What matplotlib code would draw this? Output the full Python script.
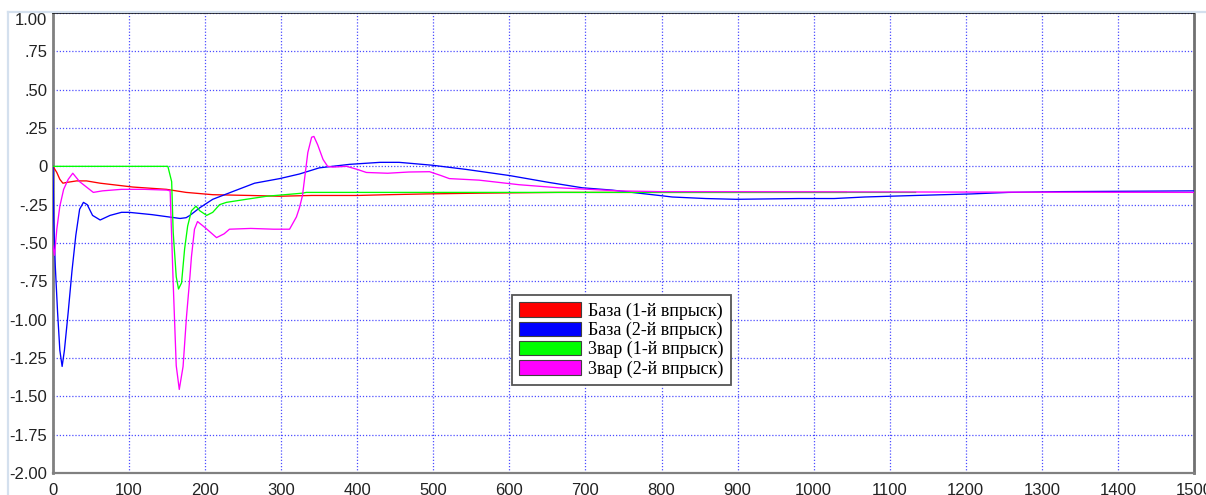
import matplotlib
matplotlib.use("Agg")
import matplotlib.pyplot as plt
from matplotlib.patches import Patch
from matplotlib.lines import Line2D

# ---- data ----
labels = ["База (1-й впрыск)", "База (2-й впрыск)", "3вар (1-й впрыск)", "3вар (2-й впрыск)"]
colors = ["#ff0000", "#0000ff", "#00ff00", "#ff00ff"]

red_x = [0, 5, 9, 13, 18, 31, 44, 62, 105, 149, 175, 210, 259, 298, 340, 400, 440, 490, 560, 665, 744, 800, 900, 1043]
red_y = [0, -0.04, -0.085, -0.11, -0.105, -0.095, -0.095, -0.11, -0.135, -0.15, -0.17, -0.185, -0.19, -0.195,
         -0.19, -0.19, -0.185, -0.18, -0.175, -0.17, -0.17, -0.17, -0.17, -0.17]

blue_x = [0, 1, 3, 6, 9, 12, 15, 20, 25, 30, 35, 40, 45, 52, 62, 75, 90, 100, 130, 167, 175, 180, 193, 210, 236,
          265, 298, 324, 350, 390, 430, 455, 499, 543, 600, 652, 696, 735, 770, 797, 814, 858, 898, 980, 1027,
          1067, 1100, 1134, 1207, 1256, 1325, 1500]
blue_y = [0, -0.35, -0.65, -0.95, -1.2, -1.305, -1.2, -0.95, -0.68, -0.45, -0.28, -0.235, -0.25, -0.32, -0.35,
          -0.32, -0.30, -0.30, -0.315, -0.34, -0.335, -0.32, -0.27, -0.215, -0.165, -0.11, -0.08, -0.05, -0.01,
          0.013, 0.026, 0.026, 0.007, -0.02, -0.06, -0.105, -0.14, -0.155, -0.175, -0.19, -0.20, -0.21, -0.215,
          -0.21, -0.21, -0.2, -0.195, -0.19, -0.18, -0.17, -0.165, -0.16]

green_x = [0, 151, 156, 158, 162, 165, 169, 173, 177, 182, 188, 193, 202, 210, 219, 228, 254, 281, 328, 333, 600,
           900, 1134]
green_y = [0, 0, -0.1, -0.43, -0.72, -0.80, -0.76, -0.54, -0.39, -0.29, -0.26, -0.29, -0.32, -0.30, -0.25, -0.235,
           -0.215, -0.195, -0.175, -0.17, -0.17, -0.17, -0.17]

mag_x = [0, 2, 5, 9, 14, 20, 26, 35, 53, 65, 90, 120, 150, 154, 158, 162, 166, 171, 175.5, 180, 182, 186, 190,
         200, 215, 225, 232, 260, 290, 311, 320, 324, 328, 335, 340, 343, 348, 355, 361, 368, 386, 400, 412, 440,
         468, 495, 510, 521, 560, 613, 665, 744, 797, 1500]
mag_y = [-0.52, -0.58, -0.41, -0.26, -0.15, -0.085, -0.045, -0.1, -0.17, -0.16, -0.15, -0.15, -0.155, -0.16,
         -0.76, -1.3, -1.455, -1.305, -0.98, -0.72, -0.59, -0.41, -0.36, -0.40, -0.465, -0.44, -0.41, -0.405,
         -0.41, -0.41, -0.33, -0.27, -0.19, 0.09, 0.19, 0.195, 0.14, 0.045, 0.0, -0.005, 0.0, -0.02, -0.04,
         -0.045, -0.037, -0.035, -0.06, -0.08, -0.09, -0.12, -0.14, -0.16, -0.165, -0.17]

x_ticks = list(range(0, 1501, 100))
y_ticks = [1.0, 0.75, 0.5, 0.25, 0, -0.25, -0.5, -0.75, -1.0, -1.25, -1.5, -1.75, -2.0]
y_tick_labels = ["1.00", ".75", ".50", ".25", "0", "-.25", "-.50", "-.75", "-1.00", "-1.25", "-1.50", "-1.75", "-2.00"]

# ---- figure ----
W, H = 1206, 495
fig = plt.figure(figsize=(W / 100, H / 100), dpi=100)
fig.patch.set_facecolor("white")
ax = fig.add_axes([53 / W, 1 - 473 / H, (1194 - 53) / W, (473 - 13) / H])

series = [(red_x, red_y), (blue_x, blue_y), (green_x, green_y), (mag_x, mag_y)]
for (xs, ys), c in zip(series, colors):
    ax.plot(xs, ys, color=c, lw=0.95, zorder=3)

ax.set_xlim(0, 1500)
ax.set_ylim(-2.0, 1.0)
ax.set_xticks(x_ticks)
ax.set_xticklabels([str(v) for v in x_ticks])
ax.set_yticks(y_ticks)
ax.set_yticklabels(y_tick_labels)
ax.tick_params(axis="both", length=0, labelsize=12, labelcolor="#222222")
ax.tick_params(axis="y", pad=4)
ax.tick_params(axis="x", pad=7)
for lab in ax.get_xticklabels() + ax.get_yticklabels():
    lab.set_fontfamily("Liberation Sans")
# top label sits inside the panel
ax.get_yticklabels()[0].set_verticalalignment("top")

ax.grid(True, color="#2020ff", linestyle=(0, (1, 1.5)), lw=0.9, alpha=0.8, zorder=1)

ax.spines["left"].set_color("#808080")
ax.spines["left"].set_linewidth(2.0)
ax.spines["right"].set_color("#707070")
ax.spines["right"].set_linewidth(2.0)
ax.spines["bottom"].set_color("#808080")
ax.spines["bottom"].set_linewidth(1.6)
ax.spines["top"].set_color("#000000")
ax.spines["top"].set_linewidth(1.2)

# outer light frame
fig.add_artist(Line2D([7.5 / W, 7.5 / W], [0, 1 - 12 / H], transform=fig.transFigure, color="#d4e0ee", lw=1.6))
fig.add_artist(Line2D([7.5 / W, 1], [1 - 12 / H, 1 - 12 / H], transform=fig.transFigure, color="#d4e0ee", lw=1.6))

handles = [Patch(facecolor=c, edgecolor="#404040", lw=0.8) for c in colors]
leg = ax.legend(handles, labels, loc="upper left", bbox_to_anchor=(512 / W, 1 - 295 / H),
                bbox_transform=fig.transFigure, prop={"family": "Liberation Serif", "size": 13},
                frameon=True, fancybox=False, shadow=False, framealpha=1, borderpad=0.4,
                handlelength=3.4, handleheight=0.85, handletextpad=0.4, labelspacing=0.1,
                borderaxespad=0)
leg.get_frame().set_edgecolor("#555555")
leg.get_frame().set_linewidth(1.3)
leg.set_zorder(5)

fig.savefig("out.png", dpi=100)
